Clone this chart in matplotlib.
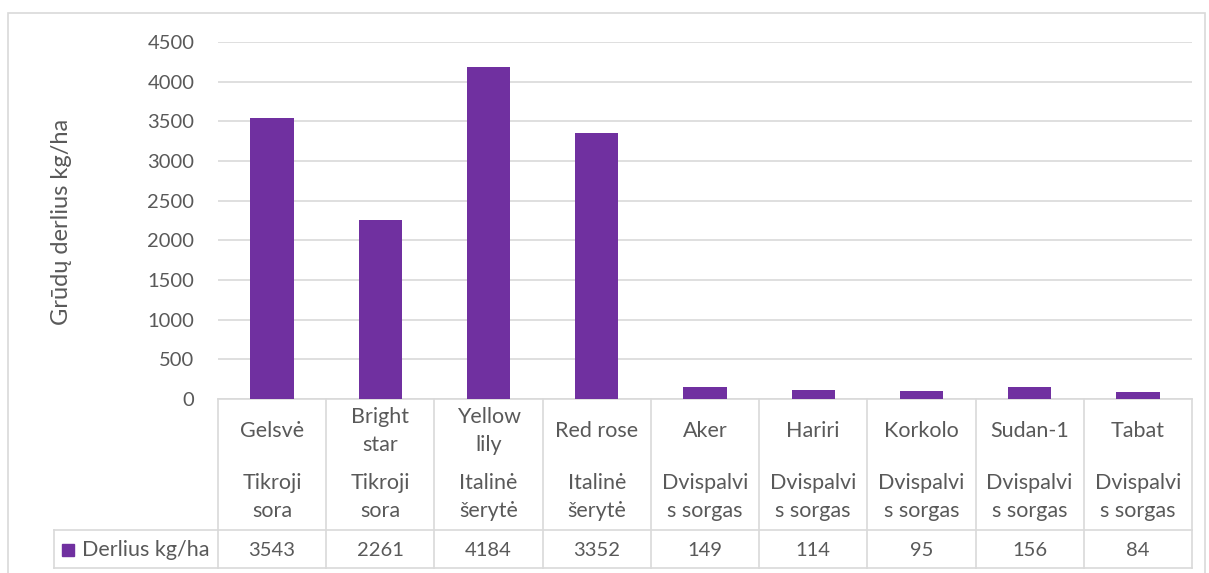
import matplotlib.pyplot as plt
import matplotlib.transforms as mtransforms
from matplotlib.patches import Rectangle

plt.rcParams['font.family'] = ['Lato', 'DejaVu Sans']

# data
varieties = ['Gelsvė', 'Bright\nstar', 'Yellow\nlily', 'Red rose', 'Aker',
             'Hariri', 'Korkolo', 'Sudan-1', 'Tabat']
groups = ['Tikroji\nsora', 'Tikroji\nsora', 'Italinė\nšerytė', 'Italinė\nšerytė',
          'Dvispalvi\ns sorgas', 'Dvispalvi\ns sorgas', 'Dvispalvi\ns sorgas',
          'Dvispalvi\ns sorgas', 'Dvispalvi\ns sorgas']
yields = [3543, 2261, 4184, 3352, 149, 114, 95, 156, 84]
series_name = 'Derlius kg/ha'
y_label = 'Grūdų derlius kg/ha'
y_ticks = [0, 500, 1000, 1500, 2000, 2500, 3000, 3500, 4000, 4500]

bar_color = '#7030A0'
grid_color = '#D9D9D9'
text_color = '#595959'
txt_size = 15.5
num_size = 14.5

W, H = 1209, 573
fig = plt.figure(figsize=(W / 100, H / 100), dpi=100)

# plot area in pixels
left_px, right_px, top_px, base_px = 218, 1192, 42, 399
ax = fig.add_axes([left_px / W, (H - base_px) / H,
                   (right_px - left_px) / W, (base_px - top_px) / H])

n = len(yields)
xs = list(range(n))
ax.bar(xs, yields, width=0.4, color=bar_color, zorder=3)
ax.set_xlim(-0.5, n - 0.5)
ax.set_ylim(0, 4500)
ax.set_yticks(y_ticks)
ax.set_yticklabels([str(t) for t in y_ticks], fontsize=num_size, color=text_color)
ax.tick_params(axis='y', length=0, pad=17)
ax.tick_params(axis='x', length=0, labelbottom=False)
ax.yaxis.grid(True, color=grid_color, linewidth=1.2, zorder=0)
for s in ['top', 'right', 'left']:
    ax.spines[s].set_visible(False)
ax.spines['bottom'].set_color(grid_color)
ax.spines['bottom'].set_linewidth(1.2)

# y label
fig.text(62 / W, 1 - 222 / H, y_label, rotation=90, ha='center', va='center',
         fontsize=17, color=text_color)

# data table below the axis
tr = mtransforms.blended_transform_factory(ax.transData, ax.transAxes)
span = base_px - top_px


def yf(px):
    return (base_px - px) / span


row_px, bot_px = 530, 568
line_kw = dict(color=grid_color, linewidth=1.2, clip_on=False)
for b in range(n + 1):
    ax.plot([b - 0.5, b - 0.5], [yf(base_px), yf(bot_px)], transform=tr, **line_kw)
ax.plot([-0.5, n - 0.5], [yf(row_px), yf(row_px)], transform=tr, **line_kw)
ax.plot([-0.5, n - 0.5], [yf(bot_px), yf(bot_px)], transform=tr, **line_kw)

# legend cell
leg_left = (54 - left_px) / (right_px - left_px)
ax.plot([leg_left, 0], [yf(row_px), yf(row_px)], transform=ax.transAxes, **line_kw)
ax.plot([leg_left, 0], [yf(bot_px), yf(bot_px)], transform=ax.transAxes, **line_kw)
ax.plot([leg_left, leg_left], [yf(row_px), yf(bot_px)], transform=ax.transAxes, **line_kw)
fig.patches.append(Rectangle((62 / W, 1 - 556 / H), 12 / W, 12 / H,
                             transform=fig.transFigure, color=bar_color))
fig.text(82 / W, 1 - 550 / H, series_name, ha='left', va='center',
         fontsize=txt_size, color=text_color)

for i in xs:
    ax.text(i, yf(431), varieties[i], transform=tr, ha='center', va='center',
            fontsize=txt_size, color=text_color, linespacing=1.55)
    ax.text(i, yf(497), groups[i], transform=tr, ha='center', va='center',
            fontsize=txt_size, color=text_color, linespacing=1.55)
    ax.text(i, yf(550), str(yields[i]), transform=tr, ha='center', va='center',
            fontsize=num_size, color=text_color)

# chart border
fig.patches.append(Rectangle((8 / W, -0.05), (1205 - 8) / W, 1 - 13 / H + 0.05,
                             transform=fig.transFigure, fill=False,
                             edgecolor=grid_color, linewidth=1.2))

fig.savefig('out.png', dpi=100)
